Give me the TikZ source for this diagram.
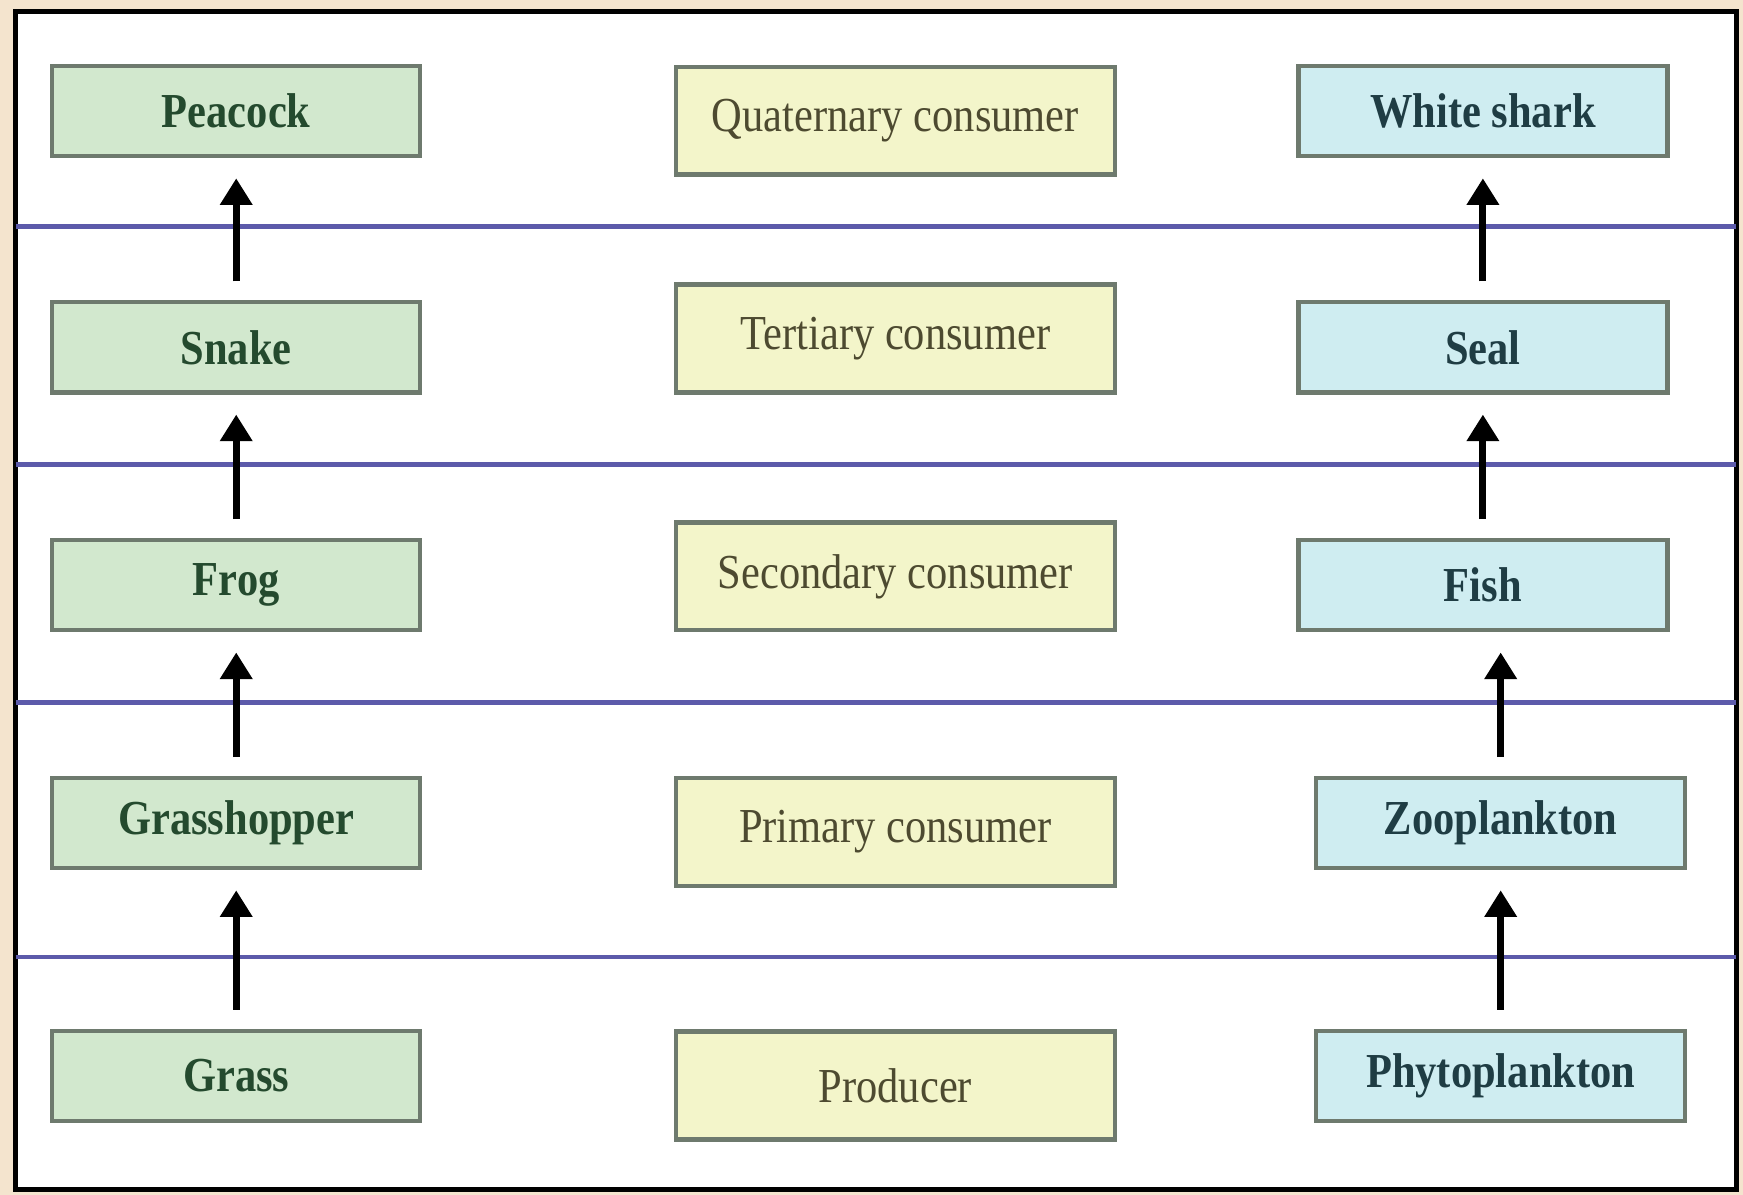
\documentclass[tikz,border=0pt]{standalone}
\usepackage{fontspec}
\setmainfont{Liberation Serif}
\newfontfamily\chainfont[FakeStretch=0.87]{Liberation Serif}
\usetikzlibrary{arrows.meta,positioning}
\definecolor{landfill}{HTML}{D2E8CE}
\definecolor{landtext}{HTML}{244A2E}
\definecolor{levelfill}{HTML}{F3F5CA}
\definecolor{leveltext}{HTML}{4D4A30}
\definecolor{seafill}{HTML}{CFEDF1}
\definecolor{seatext}{HTML}{1F3D44}
\definecolor{boxline}{HTML}{6E7A6E}
\definecolor{rowline}{HTML}{5C5AAA}
\definecolor{paper}{HTML}{F4E4CE}
\tikzset{
  land/.style={draw=boxline, line width=1.1pt, fill=landfill, minimum width=3.31cm, minimum height=0.81cm,
    font=\chainfont\fontsize{12.5}{15}\selectfont\bfseries, text=landtext},
  level/.style={draw=boxline, line width=1.1pt, fill=levelfill, minimum width=3.95cm, minimum height=0.97cm,
    font=\chainfont\fontsize{12.5}{15}\selectfont, text=leveltext},
  sea/.style={draw=boxline, line width=1.1pt, fill=seafill, minimum width=3.32cm, minimum height=0.81cm,
    font=\chainfont\fontsize{12.5}{15}\selectfont\bfseries, text=seatext},
  eats/.style={-{Triangle[width=0.28cm,length=0.24cm]}, line width=1.8pt, black,
    shorten <=0.17cm, shorten >=0.18cm},
}
\begin{document}
\begin{tikzpicture}
    \fill[paper] (0,0) rectangle (15.68,10.75);
    \draw[line width=1.3pt, fill=white] (0.14,0.05) rectangle (15.62,10.65);
    % trophic rows
    \foreach \y in {8.71,6.57,4.43,2.14}
        \draw[rowline, line width=1.2pt] (0.14,\y) -- (15.62,\y);
    % land chain
    \node[land] (peacock) at (2.125,9.75) {Peacock};
    \path (peacock) ++ (0,-2.125) node[land] (snake) {Snake};
    \path (snake) ++ (0,-2.14) node[land] (frog) {Frog};
    \path (frog) ++ (0,-2.14) node[land] (hopper) {Grasshopper};
    \path (hopper) ++ (0,-2.275) node[land] (grass) {Grass};
    % levels
    \node[level] (quat) at (8.055,9.665) {Quaternary consumer};
    \node[level] (tert) at (8.055,7.705) {Tertiary consumer};
    \node[level] (sec) at (8.055,5.565) {Secondary consumer};
    \node[level] (prim) at (8.055,3.265) {Primary consumer};
    \node[level] (prod) at (8.055,0.985) {Producer};
    % sea chain
    \node[sea] (shark) at (13.34,9.75) {White shark};
    \path (shark) ++ (0,-2.125) node[sea] (seal) {Seal};
    \path (seal) ++ (0,-2.14) node[sea] (fish) {Fish};
    \path (fish) ++ (0.16,-2.14) node[sea] (zoo) {Zooplankton};
    \path (zoo) ++ (0,-2.275) node[sea] (phyto) {Phytoplankton};
    \draw[eats] (snake.north) -- (peacock.south);
    \draw[eats] (frog.north) -- (snake.south);
    \draw[eats] (hopper.north) -- (frog.south);
    \draw[eats] (grass.north) -- (hopper.south);
    \draw[eats] (seal.north) -- (shark.south);
    \draw[eats] (fish.north) -- (seal.south);
    \draw[eats] (zoo.north) -- (zoo.north |- fish.south);
    \draw[eats] (phyto.north) -- (zoo.south);
\end{tikzpicture}
\end{document}
